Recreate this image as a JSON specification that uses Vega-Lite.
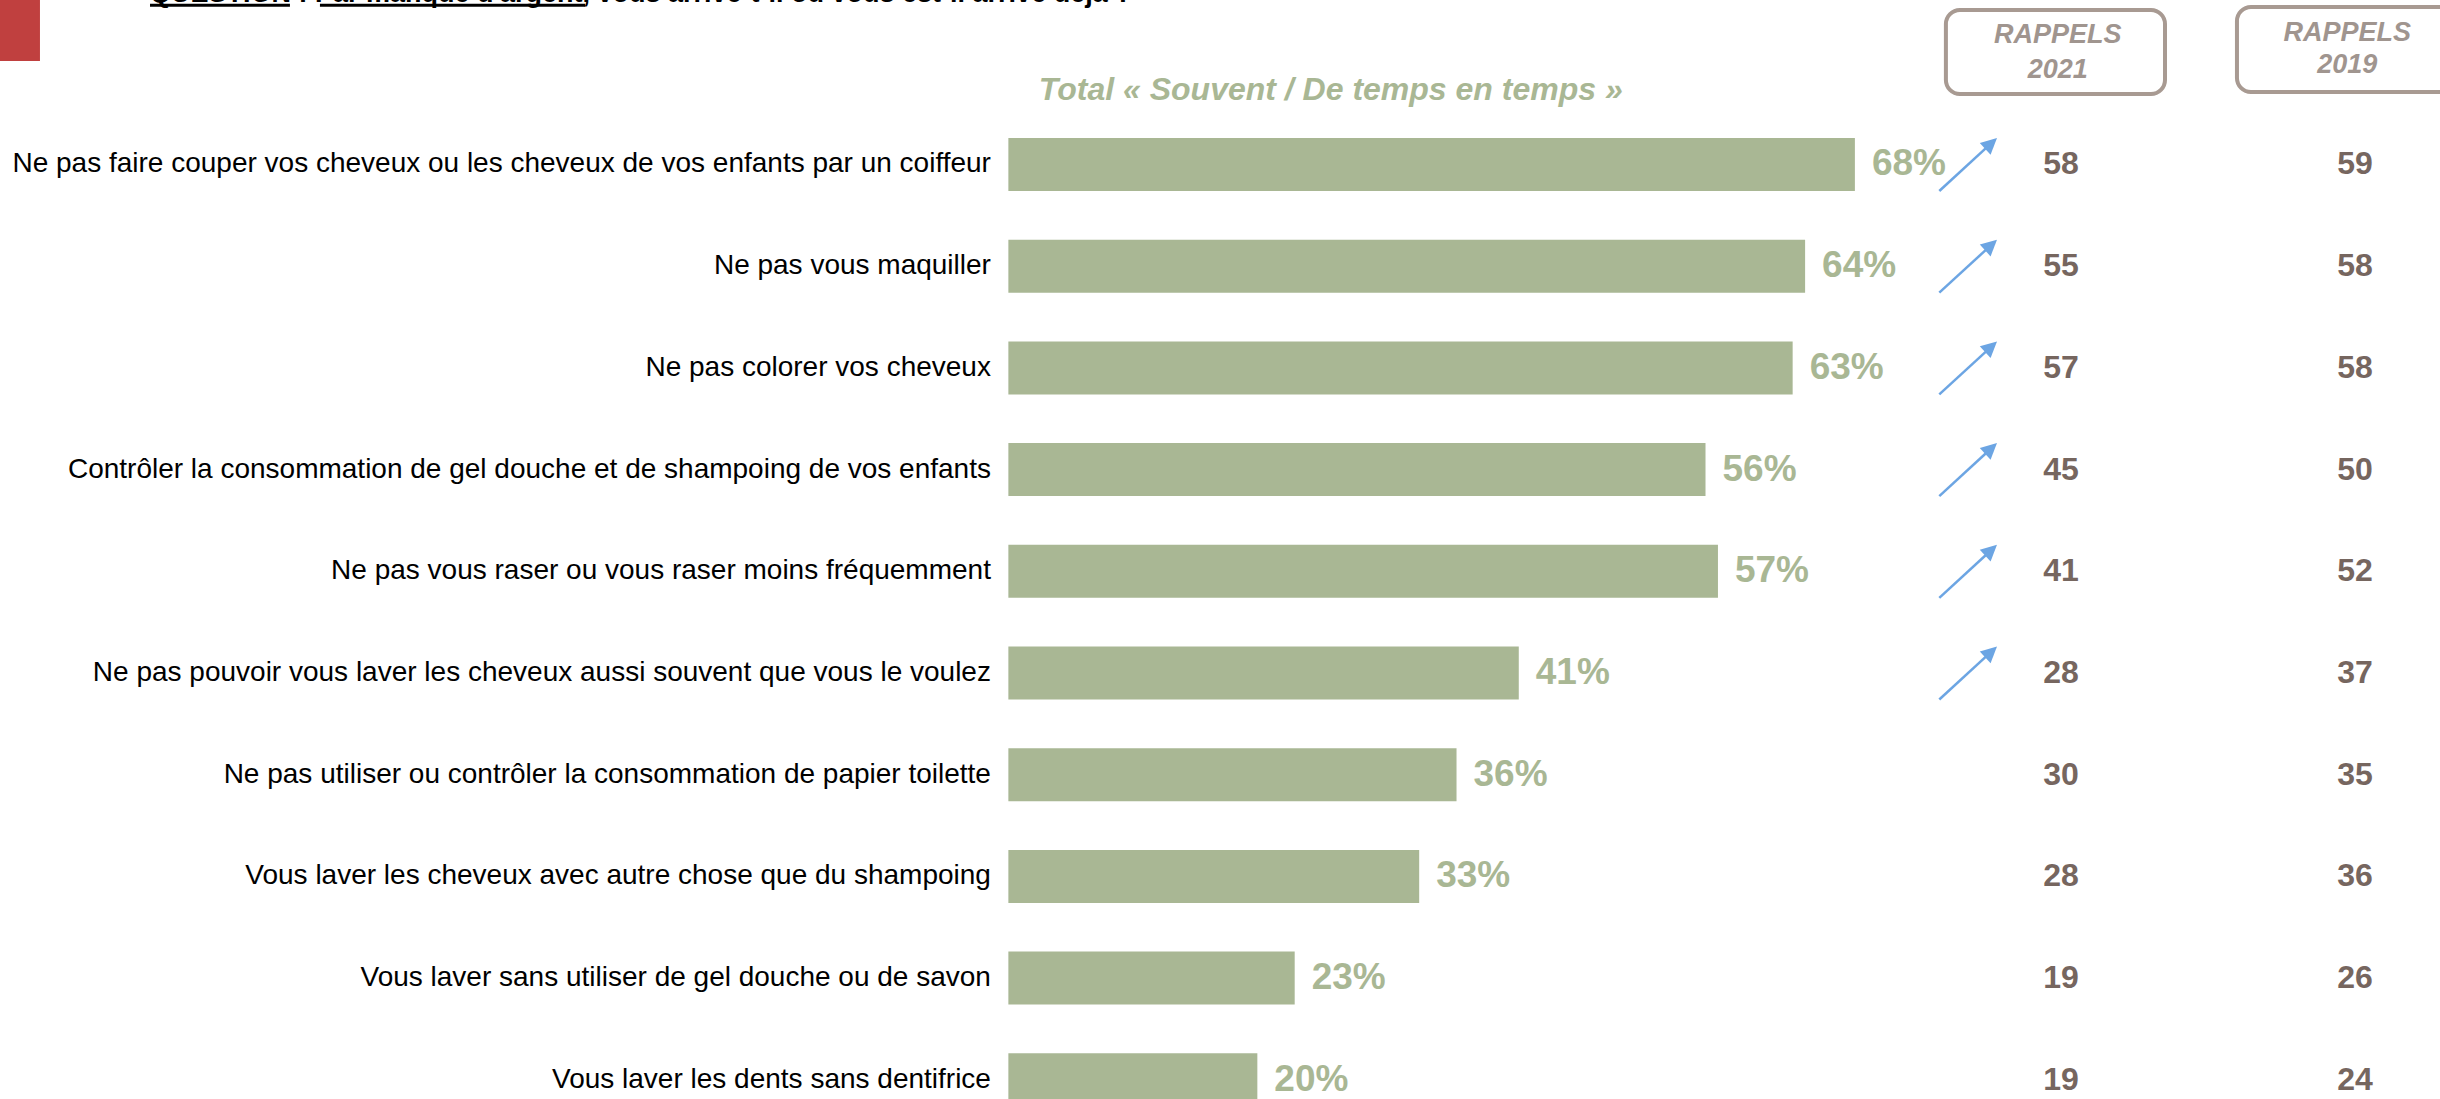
{
  "$schema": "https://vega.github.io/schema/vega-lite/v6.json",
  "width": 2440,
  "height": 1099,
  "autosize": {"type": "none"},
  "padding": 0,
  "background": "white",
  "config": {"view": {"stroke": null}, "font": "Liberation Sans"},
  "data": {"values": [
    {"label": "Ne pas faire couper vos cheveux ou les cheveux de vos enfants par un coiffeur", "total": 0.68, "r2021": 58, "r2019": 59, "hausse": true},
    {"label": "Ne pas vous maquiller", "total": 0.64, "r2021": 55, "r2019": 58, "hausse": true},
    {"label": "Ne pas colorer vos cheveux", "total": 0.63, "r2021": 57, "r2019": 58, "hausse": true},
    {"label": "Contrôler la consommation de gel douche et de shampoing de vos enfants", "total": 0.56, "r2021": 45, "r2019": 50, "hausse": true},
    {"label": "Ne pas vous raser ou vous raser moins fréquemment", "total": 0.57, "r2021": 41, "r2019": 52, "hausse": true},
    {"label": "Ne pas pouvoir vous laver les cheveux aussi souvent que vous le voulez", "total": 0.41, "r2021": 28, "r2019": 37, "hausse": true},
    {"label": "Ne pas utiliser ou contrôler la consommation de papier toilette", "total": 0.36, "r2021": 30, "r2019": 35, "hausse": false},
    {"label": "Vous laver les cheveux avec autre chose que du shampoing", "total": 0.33, "r2021": 28, "r2019": 36, "hausse": false},
    {"label": "Vous laver sans utiliser de gel douche ou de savon", "total": 0.23, "r2021": 19, "r2019": 26, "hausse": false},
    {"label": "Vous laver les dents sans dentifrice", "total": 0.20, "r2021": 19, "r2019": 24, "hausse": false}
  ]},
  "layer": [
    {
      "data": {"values": [{"h": 1}]},
      "mark": {"type": "bar", "orient": "horizontal", "height": 61, "yOffset": -32.3, "color": "#C0403F"},
      "encoding": {
        "x": {"datum": -0.81, "type": "quantitative", "axis": null, "scale": {"domain": [-0.81, 1.15], "nice": false, "zero": false}},
        "x2": {"datum": -0.7779},
        "y": {"datum": "entete", "type": "nominal", "axis": null, "scale": {"type": "point", "domain": ["entete", "Ne pas faire couper vos cheveux ou les cheveux de vos enfants par un coiffeur", "Ne pas vous maquiller", "Ne pas colorer vos cheveux", "Contrôler la consommation de gel douche et de shampoing de vos enfants", "Ne pas vous raser ou vous raser moins fréquemment", "Ne pas pouvoir vous laver les cheveux aussi souvent que vous le voulez", "Ne pas utiliser ou contrôler la consommation de papier toilette", "Vous laver les cheveux avec autre chose que du shampoing", "Vous laver sans utiliser de gel douche ou de savon", "Vous laver les dents sans dentifrice"], "padding": 0.403, "align": 0.766}}
      }
    },
    {
      "data": {"values": [{"h": 1}]},
      "mark": {"type": "text", "align": "left", "baseline": "alphabetic", "dy": -60.3, "fontSize": 27, "fontWeight": "bold", "color": "#000000"},
      "encoding": {
        "x": {"datum": -0.6895, "type": "quantitative"},
        "y": {"datum": "entete", "type": "nominal"},
        "text": {"value": "QUESTION : Par manque d'argent, vous arrive-t-il ou vous est-il arrivé déjà ?"}
      }
    },
    {
      "data": {"values": [{"h": 1}]},
      "mark": {"type": "rule", "yOffset": -57.5, "strokeWidth": 3, "color": "#000000"},
      "encoding": {
        "x": {"datum": -0.6895, "type": "quantitative"},
        "x2": {"datum": -0.5771},
        "y": {"datum": "entete", "type": "nominal"}
      }
    },
    {
      "data": {"values": [{"h": 1}]},
      "mark": {"type": "rule", "yOffset": -57.5, "strokeWidth": 3, "color": "#000000"},
      "encoding": {
        "x": {"datum": -0.553, "type": "quantitative"},
        "x2": {"datum": -0.34},
        "y": {"datum": "entete", "type": "nominal"}
      }
    },
    {
      "data": {"values": [{"h": 1}]},
      "mark": {"type": "text", "align": "center", "baseline": "middle", "dy": 27, "fontSize": 32, "fontWeight": "bold", "fontStyle": "italic", "color": "#A9B794"},
      "encoding": {
        "x": {"datum": 0.259, "type": "quantitative"},
        "y": {"datum": "entete", "type": "nominal"},
        "text": {"value": "Total « Souvent / De temps en temps »"}
      }
    },
    {
      "data": {"values": [{"h": 1}]},
      "mark": {"type": "bar", "orient": "horizontal", "height": 84, "yOffset": -10.8, "fill": "transparent", "stroke": "#A89A92", "strokeWidth": 4, "cornerRadius": 14},
      "encoding": {
        "x": {"datum": 0.7531, "type": "quantitative"},
        "x2": {"datum": 0.9291},
        "y": {"datum": "entete", "type": "nominal"}
      }
    },
    {
      "data": {"values": [{"h": 1}]},
      "mark": {"type": "bar", "orient": "horizontal", "height": 85, "yOffset": -13.3, "fill": "transparent", "stroke": "#A89A92", "strokeWidth": 4, "cornerRadius": 14},
      "encoding": {
        "x": {"datum": 0.9869, "type": "quantitative"},
        "x2": {"datum": 1.18},
        "y": {"datum": "entete", "type": "nominal"}
      }
    },
    {
      "data": {"values": [{"h": 1}]},
      "mark": {"type": "text", "align": "center", "baseline": "middle", "dy": -27.8, "lineHeight": 35, "fontSize": 27, "fontWeight": "bold", "fontStyle": "italic", "color": "#A0958F"},
      "encoding": {
        "x": {"datum": 0.8429, "type": "quantitative"},
        "y": {"datum": "entete", "type": "nominal"},
        "text": {"value": ["RAPPELS", "2021"]}
      }
    },
    {
      "data": {"values": [{"h": 1}]},
      "mark": {"type": "text", "align": "center", "baseline": "middle", "dy": -29.8, "lineHeight": 32, "fontSize": 27, "fontWeight": "bold", "fontStyle": "italic", "color": "#A0958F"},
      "encoding": {
        "x": {"datum": 1.0755, "type": "quantitative"},
        "y": {"datum": "entete", "type": "nominal"},
        "text": {"value": ["RAPPELS", "2019"]}
      }
    },
    {
      "mark": {"type": "bar", "orient": "horizontal", "height": 53, "color": "#A9B794"},
      "encoding": {
        "x": {"field": "total", "type": "quantitative"},
        "x2": {"datum": 0},
        "y": {"field": "label", "type": "nominal"}
      }
    },
    {
      "mark": {"type": "text", "align": "left", "baseline": "middle", "dx": 17, "fontSize": 37, "fontWeight": "bold", "color": "#A9B794"},
      "encoding": {
        "x": {"field": "total", "type": "quantitative"},
        "y": {"field": "label", "type": "nominal"},
        "text": {"field": "total", "type": "quantitative", "format": ".0%"}
      }
    },
    {
      "mark": {"type": "text", "align": "right", "baseline": "middle", "fontSize": 28, "color": "#000000"},
      "encoding": {
        "x": {"datum": -0.014, "type": "quantitative"},
        "y": {"field": "label", "type": "nominal"},
        "text": {"field": "label", "type": "nominal"}
      }
    },
    {
      "mark": {"type": "text", "align": "center", "baseline": "middle", "fontSize": 32, "fontWeight": "bold", "color": "#76665F"},
      "encoding": {
        "x": {"datum": 0.8455, "type": "quantitative"},
        "y": {"field": "label", "type": "nominal"},
        "text": {"field": "r2021", "type": "nominal"}
      }
    },
    {
      "mark": {"type": "text", "align": "center", "baseline": "middle", "fontSize": 32, "fontWeight": "bold", "color": "#76665F"},
      "encoding": {
        "x": {"datum": 1.0817, "type": "quantitative"},
        "y": {"field": "label", "type": "nominal"},
        "text": {"field": "r2019", "type": "nominal"}
      }
    },
    {
      "transform": [{"filter": "datum.hausse"}],
      "mark": {"type": "rule", "yOffset": 26.5, "y2Offset": -21.1, "strokeWidth": 2.5, "color": "#6CA5E3"},
      "encoding": {
        "x": {"datum": 0.7478, "type": "quantitative"},
        "x2": {"datum": 0.7894},
        "y": {"field": "label", "type": "nominal"},
        "y2": {"field": "label"}
      }
    },
    {
      "transform": [{"filter": "datum.hausse"}],
      "mark": {"type": "point", "shape": "M0,-1L1,1L-1,1Z", "size": 256, "angle": 47.6, "filled": true, "opacity": 1, "yOffset": -21.1, "color": "#6CA5E3"},
      "encoding": {
        "x": {"datum": 0.7894, "type": "quantitative"},
        "y": {"field": "label", "type": "nominal"}
      }
    }
  ]
}
